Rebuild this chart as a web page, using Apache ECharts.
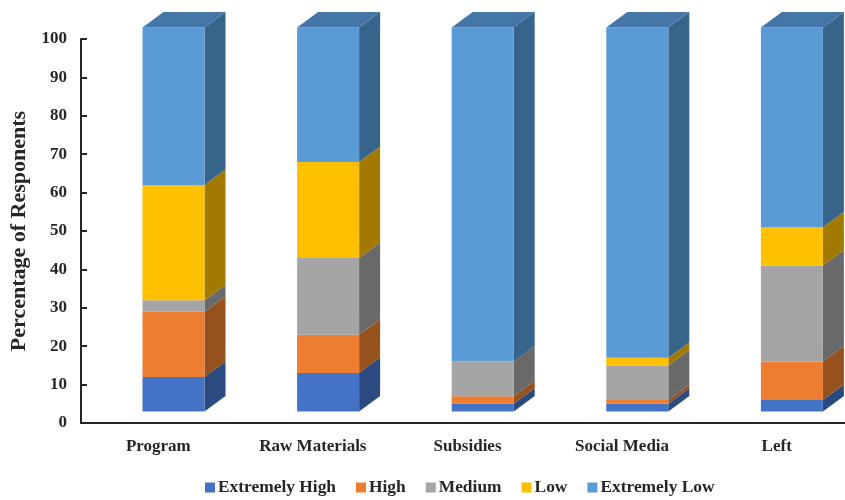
<!DOCTYPE html>
<html>
<head>
<meta charset="utf-8">
<style>html,body{margin:0;padding:0;background:#fff;}#chart{width:845px;height:500px;}</style>
<script src="https://cdn.jsdelivr.net/npm/echarts@6/dist/echarts.min.js"></script>
</head>
<body>
<div id="chart"></div>
<script>
// Survey responses per category, in percent of respondents
const categories = ['Program', 'Raw Materials', 'Subsidies', 'Social Media', 'Left'];
const extremelyHigh = [9, 10, 2, 2, 3];
const high = [17, 10, 2, 1, 10];
const medium = [3, 20, 9, 9, 25];
const low = [30, 25, 0, 2, 10];
const extremelyLow = [41, 35, 87, 86, 52];
const yTicks = { min: 0, max: 100, interval: 10 };

const levels = [
  { name: 'Extremely High', values: extremelyHigh, front: '#4472C4', side: '#2B4A80', top: '#35599A' },
  { name: 'High', values: high, front: '#ED7D31', side: '#97511F', top: '#B9622A' },
  { name: 'Medium', values: medium, front: '#A5A5A5', side: '#696969', top: '#828282' },
  { name: 'Low', values: low, front: '#FFC000', side: '#A37A00', top: '#C79600' },
  { name: 'Extremely Low', values: extremelyLow, front: '#5B9BD5', side: '#37648B', top: '#4477A7' }
];

// Extruded box look: the front face sits above the axis and the side recedes up and to the right
const FLOOR_LIFT = 11.5;
const FRONT_SHIFT = 15.2;
const DEPTH_X = 21;
const DEPTH_Y = 15.5;
const FRONT_WIDTH = 62;

function boxRenderer(level, isTop) {
  return function (params, api) {
    const base = api.coord([api.value(0), api.value(1)]);
    const head = api.coord([api.value(0), api.value(2)]);
    const x0 = base[0] + FRONT_SHIFT - FRONT_WIDTH / 2;
    const x1 = x0 + FRONT_WIDTH;
    const yb = base[1] - FLOOR_LIFT;
    const yt = head[1] - FLOOR_LIFT;
    const children = [
      { type: 'polygon', shape: { points: [[x1, yb], [x1 + DEPTH_X, yb - DEPTH_Y], [x1 + DEPTH_X, yt - DEPTH_Y], [x1, yt]] }, style: { fill: level.side } },
      { type: 'rect', shape: { x: x0, y: yt, width: FRONT_WIDTH, height: yb - yt }, style: { fill: level.front } }
    ];
    if (isTop) {
      children.push({ type: 'polygon', shape: { points: [[x0, yt], [x0 + DEPTH_X, yt - DEPTH_Y], [x1 + DEPTH_X, yt - DEPTH_Y], [x1, yt]] }, style: { fill: level.top } });
    }
    return { type: 'group', children };
  };
}

// Cumulative stacking so each segment carries its lower and upper bound
const running = categories.map(() => 0);
const series = levels.map((level, li) => {
  const data = level.values.map((v, i) => {
    const lower = running[i];
    running[i] += v;
    return [i, lower, running[i]];
  });
  return {
    name: level.name,
    type: 'custom',
    clip: false,
    itemStyle: { color: level.front },
    encode: { x: 0, y: [1, 2] },
    renderItem: boxRenderer(level, li === levels.length - 1),
    data
  };
});

const font = 'Liberation Serif';
const chart = echarts.init(document.getElementById('chart'), null, { renderer: 'canvas' });
chart.setOption({
  animation: false,
  backgroundColor: '#ffffff',
  grid: { left: 81, top: 39, width: 773, height: 384, containLabel: false, outerBoundsMode: 'none' },
  legend: {
    left: 200,
    top: 474,
    icon: 'rect',
    itemWidth: 10,
    itemHeight: 10,
    itemGap: 20,
    textStyle: { fontFamily: font, fontWeight: 'bold', fontSize: 17.4, color: '#262626', padding: [0, 0, 0, -2] },
    data: levels.map(l => l.name)
  },
  xAxis: {
    type: 'category',
    data: categories,
    axisLine: { lineStyle: { color: '#262626', width: 2 } },
    axisTick: { inside: true, length: 5, lineStyle: { color: '#262626', width: 2 } },
    axisLabel: { margin: 15, fontFamily: font, fontWeight: 'bold', fontSize: 17, color: '#262626' }
  },
  yAxis: {
    type: 'value',
    min: yTicks.min,
    max: yTicks.max,
    interval: yTicks.interval,
    name: 'Percentage of Responents',
    nameLocation: 'middle',
    nameGap: 49,
    nameTextStyle: { fontFamily: font, fontWeight: 'bold', fontSize: 22, color: '#262626' },
    splitLine: { show: false },
    axisLine: { show: true, lineStyle: { color: '#262626', width: 2 } },
    axisTick: { show: true, inside: true, length: 6, lineStyle: { color: '#262626', width: 2 } },
    axisLabel: { margin: 14, padding: [4, 0, 0, 0], fontFamily: font, fontWeight: 'bold', fontSize: 17, color: '#262626' }
  },
  series
});
</script>
</body>
</html>
